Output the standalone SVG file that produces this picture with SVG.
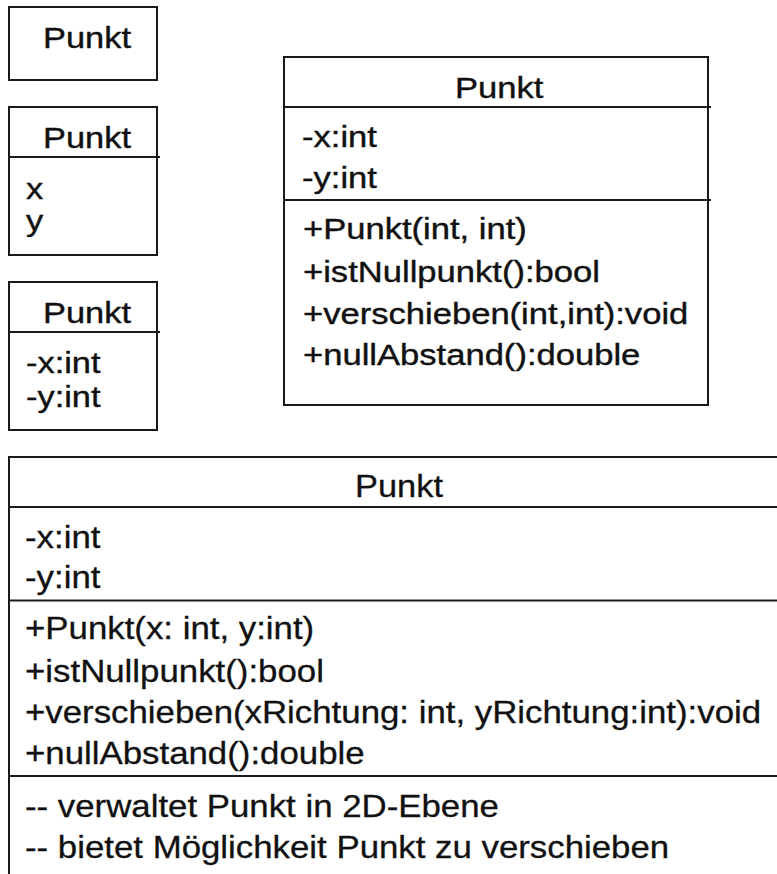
<svg xmlns="http://www.w3.org/2000/svg" width="777" height="874" viewBox="0 0 777 874">
<style>
.b{fill:none;stroke:#1a1a1a;stroke-width:2}
text{font-family:"Liberation Sans",Arial,sans-serif;font-size:30px;fill:#111;stroke:#111;stroke-width:0.4}
#punkt5 text{font-size:31px;stroke-width:0.3}
</style>
<rect width="777" height="874" fill="#fff"/>
<g id="punkt1">
<rect class="b" x="9" y="7" width="148" height="73"/>
<text transform="translate(43,48) scale(1.147,1)">Punkt</text>
</g>
<g id="punkt2">
<rect class="b" x="9" y="107" width="148" height="148"/>
<line class="b" x1="9" y1="157" x2="160" y2="157"/>
<text transform="translate(43,148) scale(1.147,1)">Punkt</text>
<text transform="translate(26,199) scale(1.147,1)">x</text>
<text transform="translate(26,231) scale(1.147,1)">y</text>
</g>
<g id="punkt3">
<rect class="b" x="9" y="282" width="148" height="148"/>
<line class="b" x1="9" y1="332" x2="160" y2="332"/>
<text transform="translate(43,323) scale(1.147,1)">Punkt</text>
<text transform="translate(26,373) scale(1.147,1)">-x:int</text>
<text transform="translate(26,407) scale(1.147,1)">-y:int</text>
</g>
<g id="punkt4">
<rect class="b" x="284" y="57" width="424" height="348"/>
<line class="b" x1="284" y1="107" x2="711" y2="107"/>
<line class="b" x1="284" y1="200" x2="711" y2="200"/>
<text transform="translate(455,98) scale(1.153,1)">Punkt</text>
<text transform="translate(302,147) scale(1.153,1)">-x:int</text>
<text transform="translate(302,188) scale(1.153,1)">-y:int</text>
<text transform="translate(303,239) scale(1.153,1)">+Punkt(int, int)</text>
<text transform="translate(303,282) scale(1.153,1)">+istNullpunkt():bool</text>
<text transform="translate(303,324) scale(1.153,1)">+verschieben(int,int):void</text>
<text transform="translate(303,365) scale(1.153,1)">+nullAbstand():double</text>
</g>
<g id="punkt5">
<path class="b" d="M9 874V457H778"/>
<line class="b" x1="9" y1="507" x2="778" y2="507"/>
<line class="b" x1="9" y1="600.5" x2="778" y2="600.5"/>
<line class="b" x1="9" y1="776" x2="778" y2="776"/>
<text transform="translate(355,497) scale(1.11,1)">Punkt</text>
<text transform="translate(25,548) scale(1.123,1)">-x:int</text>
<text transform="translate(25,588) scale(1.123,1)">-y:int</text>
<text transform="translate(25,639) scale(1.123,1)">+Punkt(x: int, y:int)</text>
<text transform="translate(25,682) scale(1.123,1)">+istNullpunkt():bool</text>
<text transform="translate(25,722.5) scale(1.123,1)">+verschieben(xRichtung: int, yRichtung:int):void</text>
<text transform="translate(25,764) scale(1.123,1)">+nullAbstand():double</text>
<text transform="translate(25,816.5) scale(1.123,1)">-- verwaltet Punkt in 2D-Ebene</text>
<text transform="translate(25,858) scale(1.123,1)">-- bietet Möglichkeit Punkt zu verschieben</text>
</g>
<g id="connectors"/>
</svg>
